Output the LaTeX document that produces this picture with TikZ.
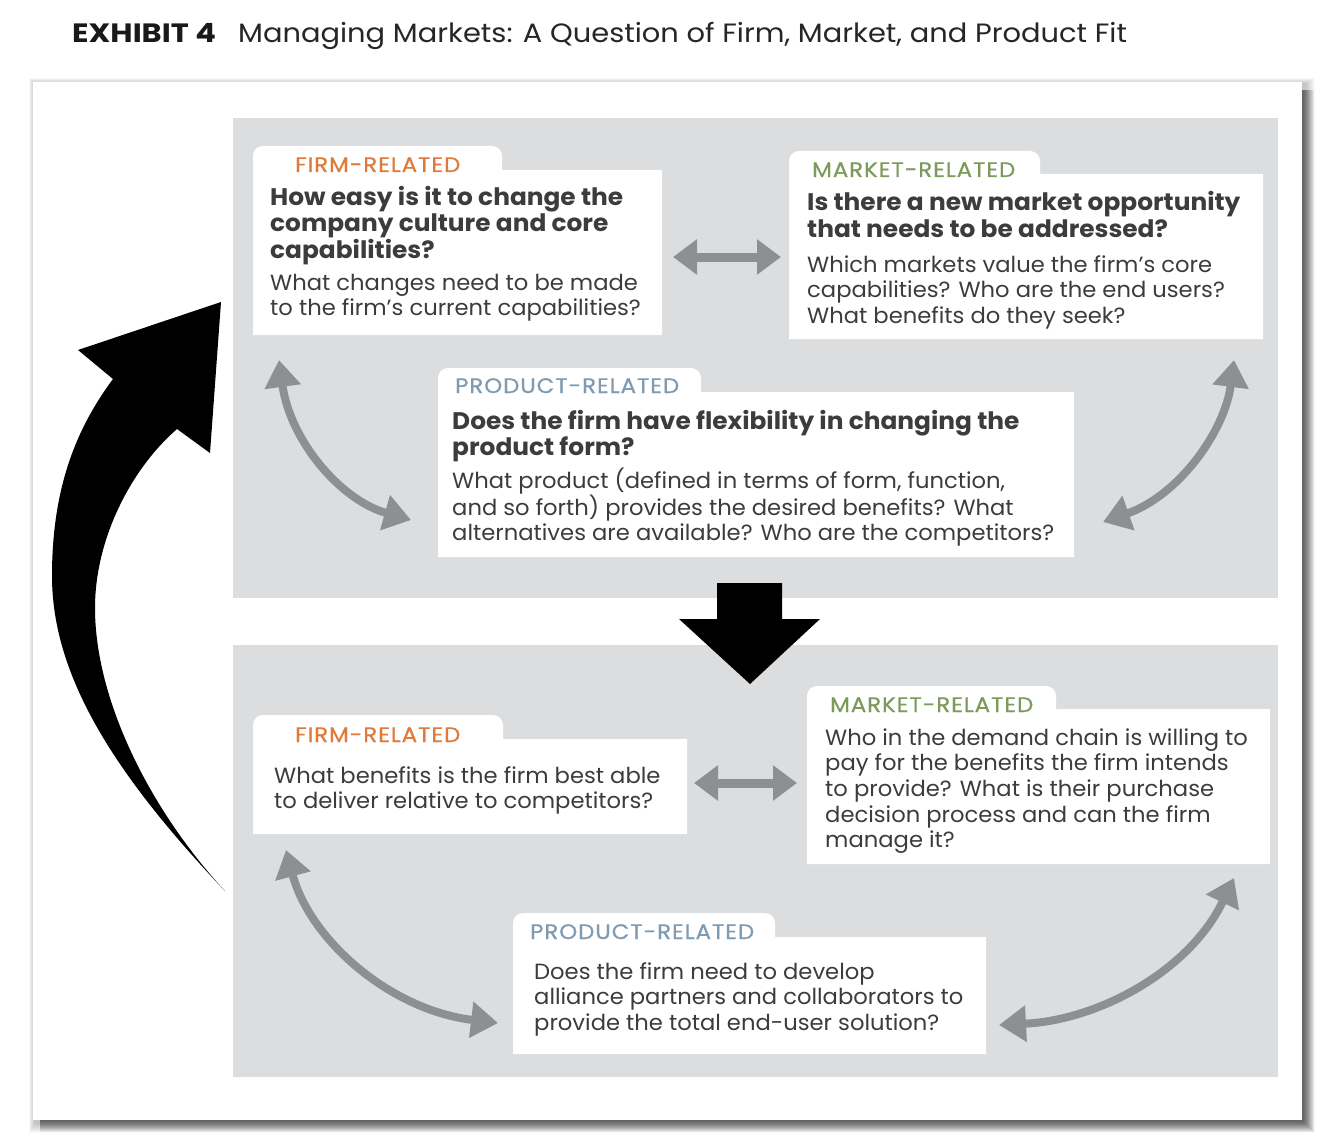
\documentclass[tikz,border=0pt]{standalone}
\usepackage{fontspec}
\setmainfont{Poppins}
\newfontfamily\bodyf[FakeStretch=1.03]{Poppins}
\newfontfamily\qstf[FakeStretch=1.035]{Poppins}
\newfontfamily\titlef[FakeStretch=1.09]{Poppins}
\newfontfamily\exhf[FakeStretch=1.15]{Poppins}
\newfontfamily\lblf[FakeStretch=1.09,LetterSpace=4.5,FakeBold=0.6]{Poppins}
\usetikzlibrary{arrows.meta}
\definecolor{firmc}{HTML}{E07A3A}
\definecolor{mktc}{HTML}{7B9A5B}
\definecolor{prodc}{HTML}{7F9BB3}
\definecolor{txtc}{HTML}{3C3C3C}
\definecolor{panelc}{HTML}{DCDDDF}
\definecolor{arrowg}{HTML}{8E8F91}
\newcommand\mytabbox[6]{%
\fill[white] (#1,-#6) -- (#1,-#2-10) arc[start angle=180,end angle=90,radius=10]
 -- (#3-10,-#2) arc[start angle=90,end angle=0,radius=10] -- (#3,-#4) -- (#5,-#4) -- (#5,-#6) -- cycle;}
\begin{document}
\begin{tikzpicture}[x=1pt,y=1pt,
  lbl/.style={anchor=base west, inner sep=0, font=\lblf\fontsize{21}{24}\selectfont},
  qst/.style={anchor=base west, inner sep=0, text=txtc, font=\qstf\fontsize{24}{26.5}\bfseries\selectfont},
  body/.style={anchor=base west, inner sep=0, text=txtc, font=\bodyf\fontsize{22}{25.7}\selectfont},
  garrow/.style={draw=arrowg, line width=8pt, {Triangle[length=27pt,width=35pt]}-{Triangle[length=27pt,width=35pt]}},
  harrow/.style={draw=arrowg, line width=9pt, {Triangle[length=24pt,width=34pt]}-{Triangle[length=24pt,width=34pt]}}]
\useasboundingbox (0,0) rectangle (1338,-1142);
\fill[white] (0,0) rectangle (1338,-1142);
% card shadow
\foreach \k in {1,...,10} {
  \fill[black,opacity=0.025] (33+2-\k*0.6,-82-2+\k*0.6) rectangle (1302+3+\k,-1120-3-\k);
}
\foreach \k in {1,...,12} {
  \fill[black,opacity=0.05] (40,-90) rectangle (1302+\k,-1120-\k);
}
\fill[white] (33,-82) rectangle (1302,-1120);
% title
\node[anchor=base west, inner sep=0, font=\exhf\fontsize{26.5}{30}\bfseries\selectfont, text=black!90] (t1) at (72,-43) {EXHIBIT 4};
\node[anchor=base west, inner sep=0, font=\titlef\fontsize{26.5}{30}\selectfont, text=black!85] (t2) at (238,-43) {Managing Markets: A Question of Firm, Market, and Product Fit};
% panels
\fill[panelc] (233,-118) rectangle (1278,-598);
\fill[panelc] (233,-645) rectangle (1278,-1077);
% boxes
\mytabbox{253}{146}{502}{170}{662}{335}
\mytabbox{789}{151}{1040}{174}{1263}{339}
\mytabbox{438}{368}{701}{392}{1074}{557}
\mytabbox{253}{715}{503}{739}{687}{834}
\mytabbox{807}{686}{1056}{709}{1270}{864}
\mytabbox{513}{913}{775}{937}{986}{1054}
% top firm
\node[lbl, text=firmc] (tfl) at (295,-172) {FIRM-RELATED};
\node[qst] (tfq) at (270,-205) {\vtop{\hbox{How easy is it to change the}\hbox{company culture and core}\hbox{capabilities?}}};
\node[body] (tfb) at (270,-290) {\vtop{\hbox{What changes need to be made}\hbox{to the firm’s current capabilities?}}};
% top market
\node[lbl, text=mktc] (tml) at (812,-177) {MARKET-RELATED};
\node[qst] (tmq) at (807,-211) {\vtop{\hbox{Is there a new market opportunity}\hbox{that needs to be addressed?}}};
\node[body] (tmb) at (807,-272) {\vtop{\hbox{Which markets value the firm’s core}\hbox{capabilities? Who are the end users?}\hbox{What benefits do they seek?}}};
% top product
\node[lbl, text=prodc] (tpl) at (455,-393) {PRODUCT-RELATED};
\node[qst] (tpq) at (452,-429) {\vtop{\hbox{Does the firm have flexibility in changing the}\hbox{product form?}}};
\node[body] (tpb) at (452,-488) {\vtop{\hbox{What product (defined in terms of form, function,}\hbox{and so forth) provides the desired benefits? What}\hbox{alternatives are available? Who are the competitors?}}};
% bottom firm
\node[lbl, text=firmc] (bfl) at (295,-742) {FIRM-RELATED};
\node[body] (bfb) at (274,-783) {\vtop{\hbox{What benefits is the firm best able}\hbox{to deliver relative to competitors?}}};
% bottom market
\node[lbl, text=mktc] (bml) at (830,-712) {MARKET-RELATED};
\node[body] (bmb) at (825,-745) {\vtop{\hbox{Who in the demand chain is willing to}\hbox{pay for the benefits the firm intends}\hbox{to provide? What is their purchase}\hbox{decision process and can the firm}\hbox{manage it?}}};
% bottom product
\node[lbl, text=prodc] (bpl) at (530,-939) {PRODUCT-RELATED};
\node[body] (bpb) at (534,-979) {\vtop{\hbox{Does the firm need to develop}\hbox{alliance partners and collaborators to}\hbox{provide the total end-user solution?}}};
% arrow end points
\coordinate (a1) at (673,-257); \coordinate (a2) at (781,-257);
\coordinate (a3) at (279,-360); \coordinate (a4) at (411,-520);
\coordinate (a5) at (1234,-360); \coordinate (a6) at (1103,-522);
\coordinate (b1) at (694,-783); \coordinate (b2) at (797,-783);
\coordinate (b3) at (286,-850); \coordinate (b4) at (498,-1023);
\coordinate (b5) at (1234,-878); \coordinate (b6) at (999,-1025);
\draw[harrow] (a1) -- (a2);
\draw[harrow] (b1) -- (b2);
\draw[garrow] (a3) .. controls (290,-440) and (340,-500) .. (a4);
\draw[garrow] (a5) .. controls (1225,-430) and (1180,-495) .. (a6);
\draw[garrow] (b3) .. controls (310,-940) and (390,-1010) .. (b4);
\draw[garrow] (b5) .. controls (1190,-970) and (1100,-1020) .. (b6);
% big down arrow
\fill[black] (717,-583) -- (782,-583) -- (782,-619) -- (820,-619) -- (750,-684) -- (679,-619) -- (717,-619) -- cycle;
% big curved return arrow
\fill[black] (225,-891) .. controls (120,-780) and (52,-680) .. (52,-576)
  .. controls (52,-490) and (75,-430) .. (113,-379)
  -- (78,-350) -- (221,-302) -- (210,-453) -- (177,-429)
  .. controls (130,-470) and (95,-540) .. (95,-608)
  .. controls (95,-700) and (150,-810) .. (225,-891) -- cycle;
\end{tikzpicture}
\end{document}
